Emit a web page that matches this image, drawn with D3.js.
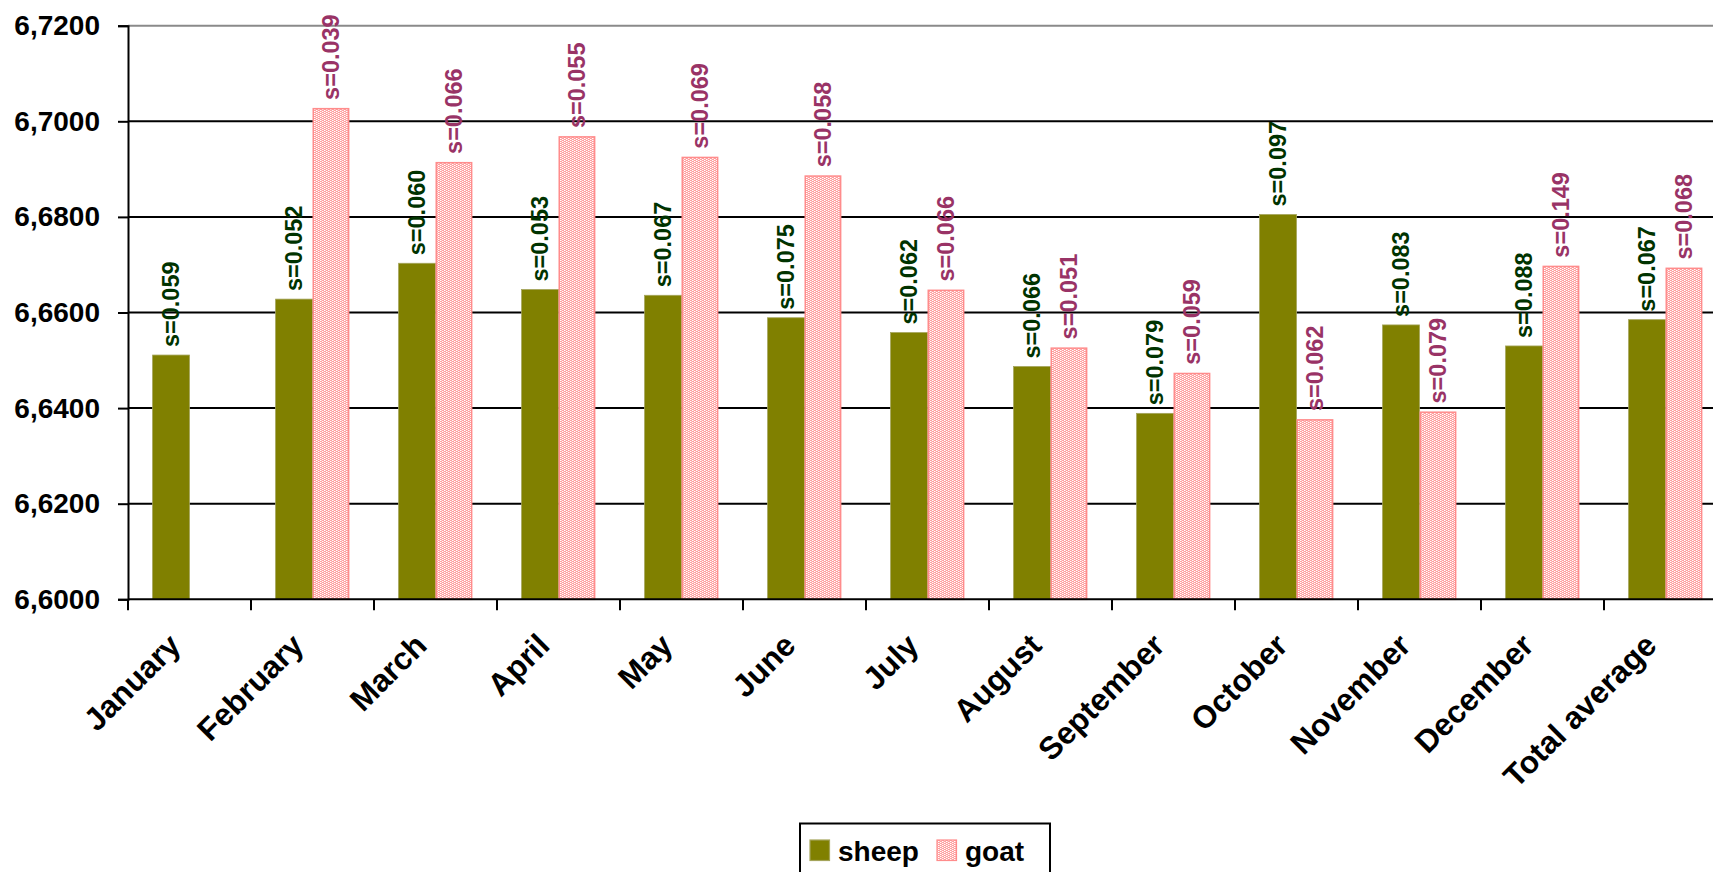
<!DOCTYPE html>
<html>
<head>
<meta charset="utf-8">
<script src="https://cdn.jsdelivr.net/npm/d3@7"></script>
<style>
  body { margin: 0; background: #fff; }
  svg { display: block; }
</style>
</head>
<body>
<div id="chart"></div>
<script>
// monthly means for sheep and goat, with standard deviations shown as labels
const categories = ['January', 'February', 'March', 'April', 'May', 'June', 'July',
  'August', 'September', 'October', 'November', 'December', 'Total average'];
const sheep = [6.6511, 6.6628, 6.6703, 6.6648, 6.6636, 6.6589, 6.6558, 6.6487, 6.6389, 6.6805, 6.6574, 6.6530, 6.6585];
const goat = [null, 6.7028, 6.6915, 6.6969, 6.6926, 6.6887, 6.6648, 6.6527, 6.6474, 6.6377, 6.6393, 6.6698, 6.6694];
const sheepSd = ['0.059', '0.052', '0.060', '0.053', '0.067', '0.075', '0.062', '0.066', '0.079', '0.097', '0.083', '0.088', '0.067'];
const goatSd = [null, '0.039', '0.066', '0.055', '0.069', '0.058', '0.066', '0.051', '0.059', '0.062', '0.079', '0.149', '0.068'];
const yTicks = [6.60, 6.62, 6.64, 6.66, 6.68, 6.70, 6.72];
const seriesNames = ['sheep', 'goat'];

const width = 1713, height = 872;
const font = "'Liberation Sans', Arial, sans-serif";
const plotLeft = 128, plotRight = 1727, plotTop = 25.7, plotBottom = 599.3;

const svg = d3.select('#chart').append('svg')
  .attr('width', width)
  .attr('height', height);

// goat fill: fine staggered dot pattern
const defs = svg.append('defs');
const pat = defs.append('pattern')
  .attr('id', 'goatPat')
  .attr('width', 4).attr('height', 2)
  .attr('patternUnits', 'userSpaceOnUse');
pat.append('rect').attr('width', 4).attr('height', 2).attr('fill', '#ff9f9f');
pat.append('rect').attr('x', 0).attr('y', 0).attr('width', 1).attr('height', 1).attr('fill', '#ffffff');
pat.append('rect').attr('x', 2).attr('y', 1).attr('width', 1).attr('height', 1).attr('fill', '#ffffff');
pat.append('rect').attr('x', 1).attr('y', 0).attr('width', 1).attr('height', 1).attr('fill', '#ffcfcf');
pat.append('rect').attr('x', 3).attr('y', 1).attr('width', 1).attr('height', 1).attr('fill', '#ffcfcf');

const x = d3.scaleBand()
  .domain(categories)
  .range([plotLeft, plotRight])
  .paddingInner(0.4)
  .paddingOuter(0.2);
const xs = d3.scaleBand()
  .domain(seriesNames)
  .range([0, x.bandwidth()]);
const y = d3.scaleLinear()
  .domain([6.6, 6.72])
  .range([plotBottom, plotTop]);

// gridlines
svg.append('g')
  .selectAll('line')
  .data(yTicks.slice(1))
  .enter()
  .append('line')
  .attr('x1', plotLeft).attr('x2', plotRight)
  .attr('y1', d => y(d)).attr('y2', d => y(d))
  .attr('stroke', (d, i) => i === yTicks.length - 2 ? '#8a8a8a' : '#000')
  .attr('stroke-width', 2);

// bars
const rows = categories.map((c, i) => ({ cat: c, sheep: sheep[i], goat: goat[i], sSd: sheepSd[i], gSd: goatSd[i] }));

const bars = svg.append('g');
bars.selectAll('.sheep')
  .data(rows)
  .enter()
  .append('rect')
  .attr('class', 'sheep')
  .attr('x', d => x(d.cat) + xs('sheep'))
  .attr('y', d => y(d.sheep))
  .attr('width', xs.bandwidth())
  .attr('height', d => plotBottom - y(d.sheep))
  .attr('fill', '#808000')
  .attr('stroke', '#a4a45a')
  .attr('stroke-width', 0.8);

bars.selectAll('.goat')
  .data(rows.filter(d => d.goat != null))
  .enter()
  .append('rect')
  .attr('class', 'goat')
  .attr('x', d => x(d.cat) + xs('goat') + 0.75)
  .attr('y', d => y(d.goat) + 0.75)
  .attr('width', xs.bandwidth() - 1.5)
  .attr('height', d => plotBottom - y(d.goat) - 0.75)
  .attr('fill', 'url(#goatPat)')
  .attr('stroke', '#ff8c8c')
  .attr('stroke-width', 1.5);

// y axis
const yAxis = svg.append('g')
  .attr('transform', `translate(${plotLeft},0)`)
  .call(d3.axisLeft(y).tickValues(yTicks).tickSize(10).tickPadding(18)
    .tickFormat(d => d.toFixed(4).replace('.', ',')));
yAxis.select('.domain').attr('stroke', '#000').attr('stroke-width', 2);
yAxis.selectAll('.tick line').attr('stroke', '#000').attr('stroke-width', 2);
yAxis.selectAll('text')
  .attr('fill', '#000')
  .attr('font-family', font)
  .attr('font-weight', 'bold')
  .attr('font-size', 28);

// x axis baseline with ticks between categories
svg.append('line')
  .attr('x1', plotLeft).attr('x2', plotRight)
  .attr('y1', plotBottom).attr('y2', plotBottom)
  .attr('stroke', '#000').attr('stroke-width', 2);
svg.append('g')
  .selectAll('line')
  .data(categories)
  .enter()
  .append('line')
  .attr('x1', d => x(d) - x.step() * 0.2)
  .attr('x2', d => x(d) - x.step() * 0.2)
  .attr('y1', plotBottom).attr('y2', plotBottom + 11)
  .attr('stroke', '#000').attr('stroke-width', 2);

// category labels
svg.append('g')
  .selectAll('text')
  .data(categories)
  .enter()
  .append('text')
  .attr('transform', d => `translate(${x(d) + x.bandwidth() / 2 - 7},${plotBottom + 48}) rotate(-45)`)
  .attr('text-anchor', 'end')
  .attr('font-family', font)
  .attr('font-weight', 'bold')
  .attr('font-size', 31.5)
  .attr('fill', '#000')
  .text(d => d);

// s= labels
const lab = svg.append('g')
  .attr('font-family', font)
  .attr('font-weight', 'bold')
  .attr('font-size', 23.5);
lab.selectAll('.slab')
  .data(rows)
  .enter()
  .append('text')
  .attr('transform', d => `translate(${x(d.cat) + xs('sheep') + xs.bandwidth() / 2},${y(d.sheep) - 8}) rotate(-90)`)
  .attr('dy', '0.35em')
  .attr('fill', '#003300')
  .text(d => 's=' + d.sSd);
lab.selectAll('.glab')
  .data(rows.filter(d => d.goat != null))
  .enter()
  .append('text')
  .attr('transform', d => `translate(${x(d.cat) + xs('goat') + xs.bandwidth() / 2},${y(d.goat) - 8}) rotate(-90)`)
  .attr('dy', '0.35em')
  .attr('fill', '#993366')
  .text(d => 's=' + d.gSd);

// legend
const legend = svg.append('g');
legend.append('rect')
  .attr('x', 800).attr('y', 823.5)
  .attr('width', 250).attr('height', 70)
  .attr('fill', '#fff')
  .attr('stroke', '#000').attr('stroke-width', 2);
const items = [
  { name: 'sheep', fill: '#808000', stroke: '#a4a45a', x: 810 },
  { name: 'goat', fill: 'url(#goatPat)', stroke: '#ff8c8c', x: 937 }
];
legend.selectAll('.sw')
  .data(items)
  .enter()
  .append('rect')
  .attr('x', d => d.x).attr('y', 840)
  .attr('width', 19.5).attr('height', 20.5)
  .attr('fill', d => d.fill)
  .attr('stroke', d => d.stroke)
  .attr('stroke-width', 1.2);
legend.selectAll('.lt')
  .data(items)
  .enter()
  .append('text')
  .attr('x', d => d.x + 28)
  .attr('y', 860.5)
  .attr('font-family', font)
  .attr('font-weight', 'bold')
  .attr('font-size', 28)
  .attr('fill', '#000')
  .text(d => d.name);
</script>
</body>
</html>
